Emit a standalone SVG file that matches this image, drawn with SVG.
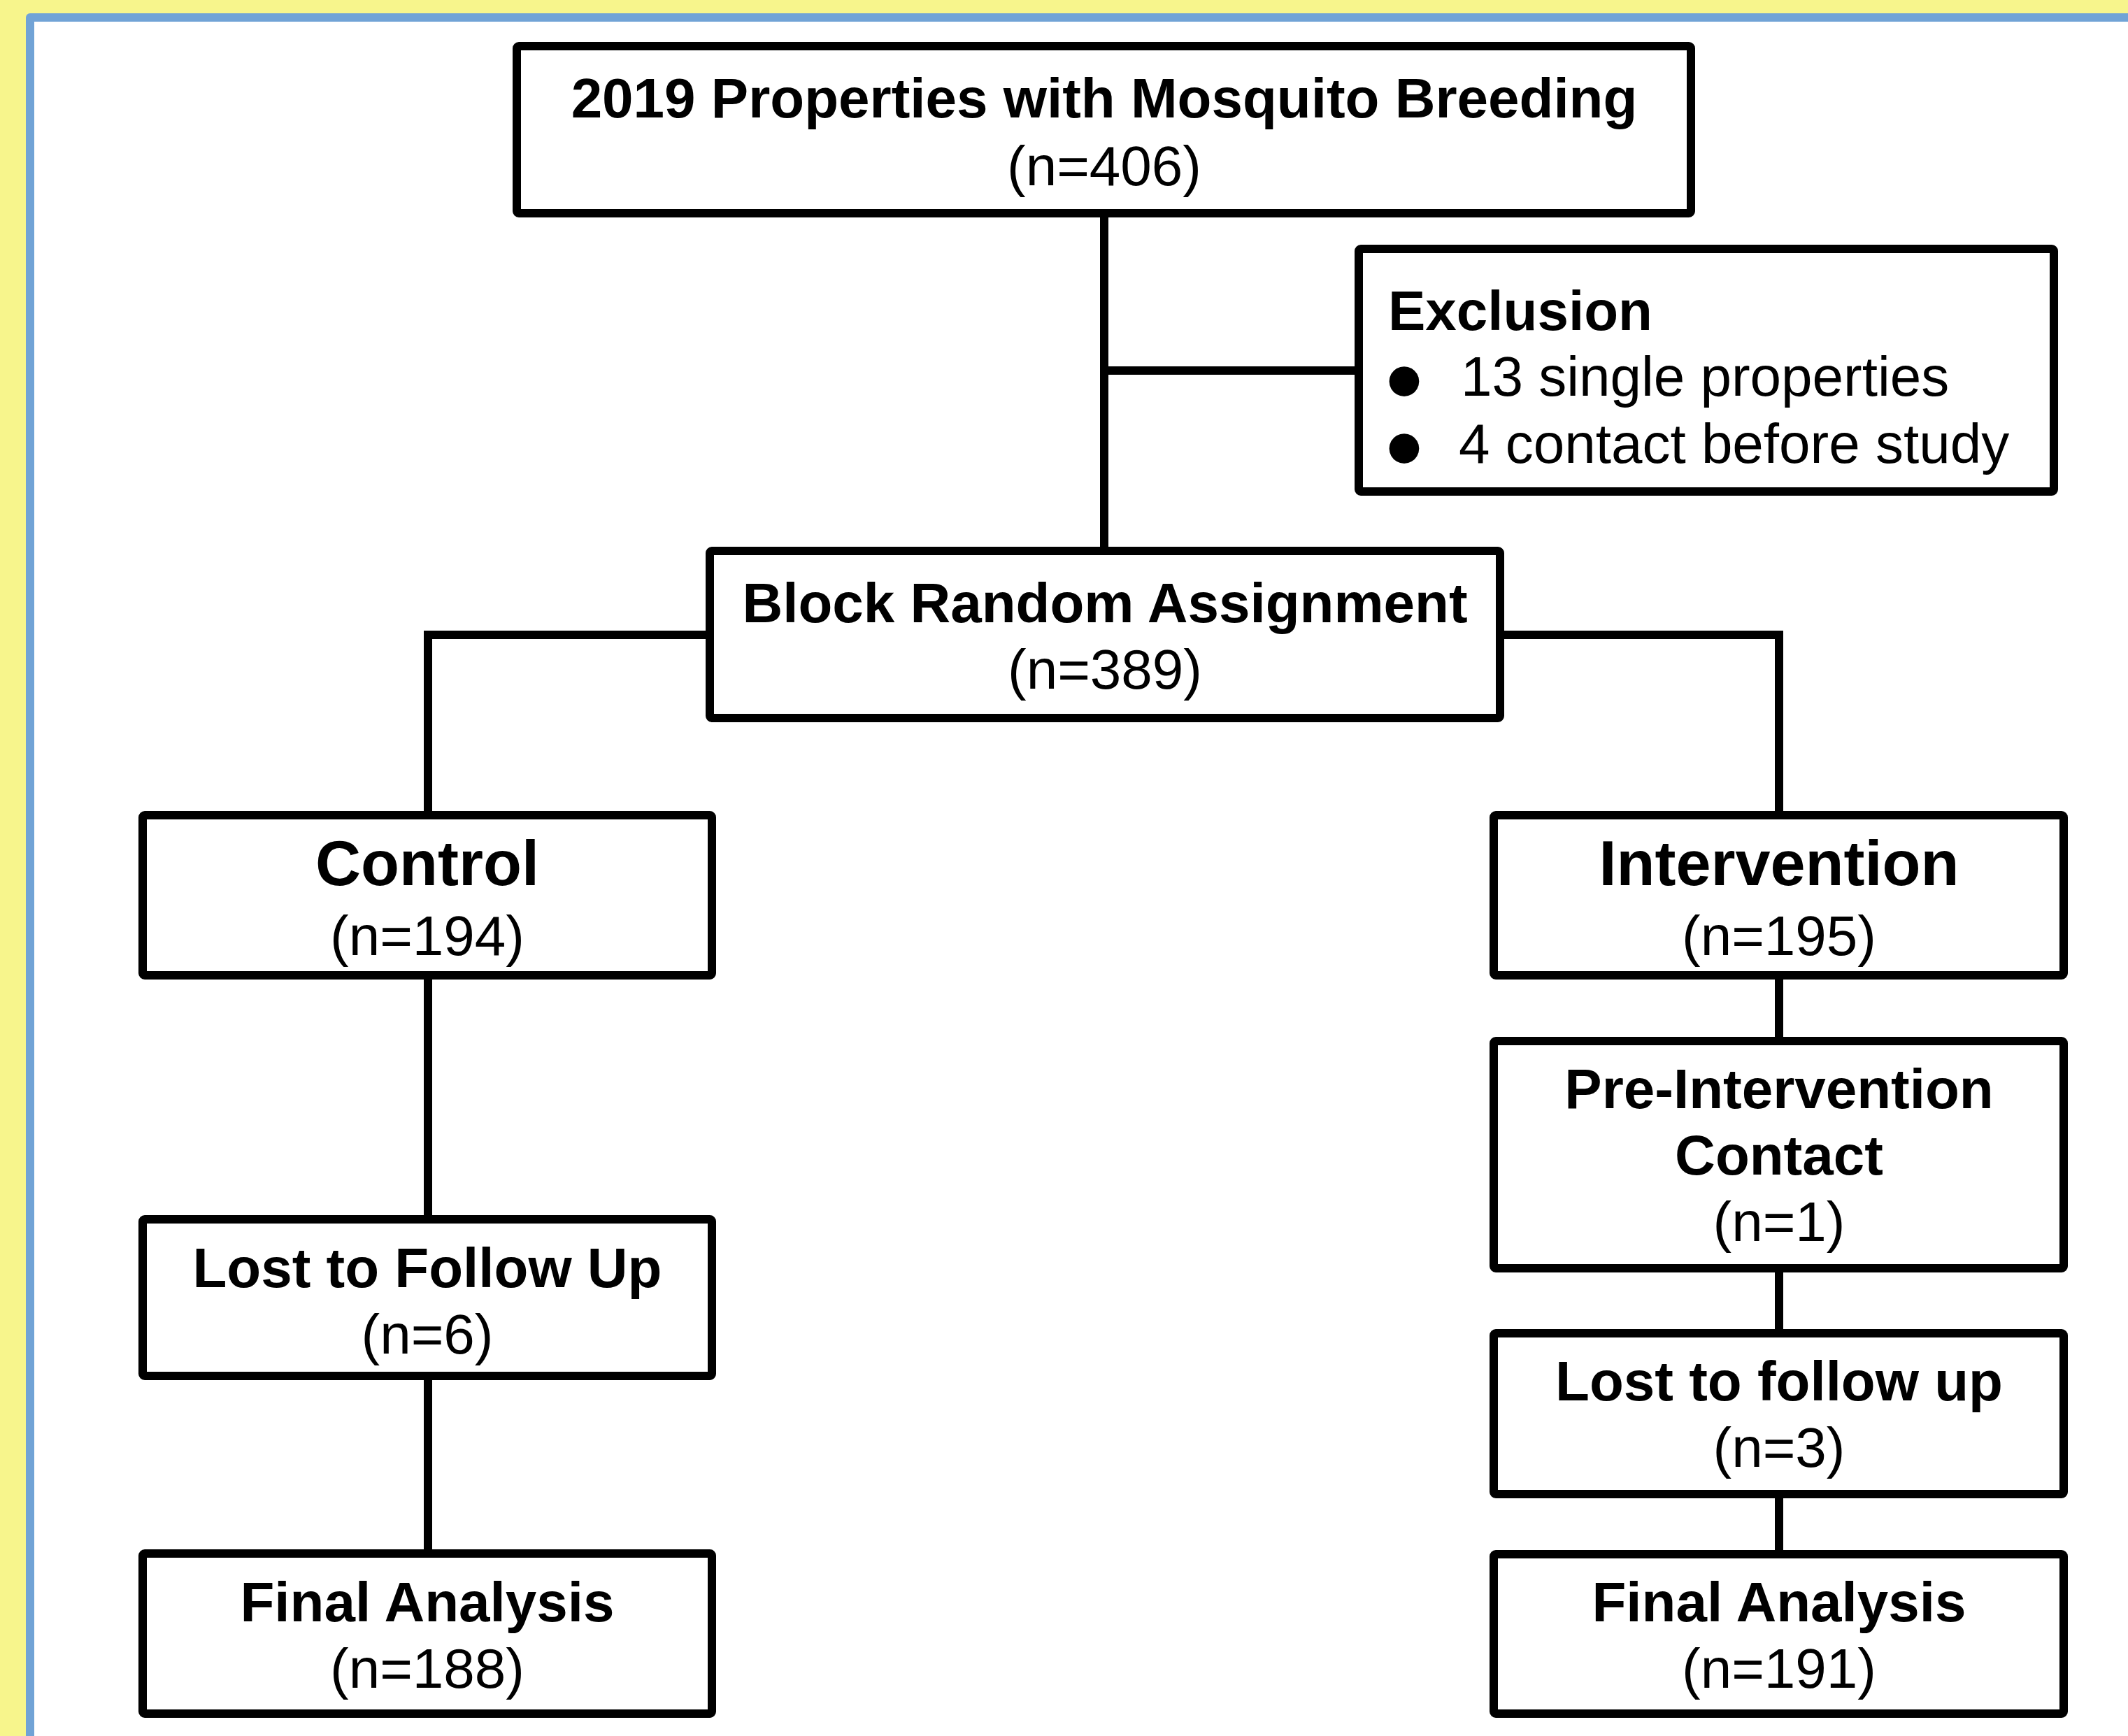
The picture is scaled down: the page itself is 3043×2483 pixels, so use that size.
<svg xmlns="http://www.w3.org/2000/svg" width="3043" height="2483" viewBox="0 0 3043 2483">
<style>
.box{fill:#ffffff;stroke:#000000;stroke-width:12;}
.conn{fill:none;stroke:#000000;stroke-width:12;stroke-linejoin:miter;stroke-linecap:butt;}
.t{font-family:"Liberation Sans",Arial,sans-serif;fill:#000000;text-anchor:middle;}
.b{font-weight:bold;font-size:80px;}
.bl{font-weight:bold;font-size:90px;}
.r{font-weight:normal;font-size:80px;}
.l{text-anchor:start;}
.bul{font-family:"DejaVu Sans",sans-serif;font-size:56px;fill:#000000;text-anchor:middle;}
</style>
<rect x="0" y="0" width="3043" height="2483" fill="#F7F58C"/>
<rect x="37" y="19" width="3100" height="2600" rx="6" fill="#71A3D6"/>
<rect x="49" y="31" width="3100" height="2600" fill="#ffffff"/>
<g id="connectors">
<path class="conn" d="M1579,305 V790"/>
<path class="conn" d="M1579,530 H1945"/>
<path class="conn" d="M1017,908 H612 V1168"/>
<path class="conn" d="M2143,908 H2544 V1168"/>
<path class="conn" d="M612,1393 V1746"/>
<path class="conn" d="M612,1966 V2224"/>
<path class="conn" d="M2544,1393 V1491"/>
<path class="conn" d="M2544,1812 V1909"/>
<path class="conn" d="M2544,2135 V2225"/>
</g>
<g id="node-properties">
<rect class="box" x="739" y="66" width="1679" height="239" rx="3"/>
<text class="t b" x="1579" y="168">2019 Properties with Mosquito Breeding</text>
<text class="t r" x="1579" y="265">(n=406)</text>
</g>
<g id="node-exclusion">
<rect class="box" x="1943" y="356" width="994" height="347" rx="3"/>
<text class="t b l" x="1985" y="472">Exclusion</text>
<text class="bul" x="2008" y="560">●</text>
<text class="t r l" x="2089" y="566">13 single properties</text>
<text class="bul" x="2008" y="656">●</text>
<text class="t r l" x="2086" y="662">4 contact before study</text>
</g>
<g id="node-block">
<rect class="box" x="1015" y="788" width="1130" height="239" rx="3"/>
<text class="t b" x="1580" y="890">Block Random Assignment</text>
<text class="t r" x="1580" y="985">(n=389)</text>
</g>
<g id="node-control">
<rect class="box" x="204" y="1166" width="814" height="229" rx="3"/>
<text class="t bl" x="611" y="1266">Control</text>
<text class="t r" x="611" y="1366">(n=194)</text>
</g>
<g id="node-intervention">
<rect class="box" x="2136" y="1166" width="815" height="229" rx="3"/>
<text class="t bl" x="2544" y="1266">Intervention</text>
<text class="t r" x="2544" y="1366">(n=195)</text>
</g>
<g id="node-pre-intervention">
<rect class="box" x="2136" y="1489" width="815" height="325" rx="3"/>
<text class="t b" x="2544" y="1585">Pre-Intervention</text>
<text class="t b" x="2544" y="1680">Contact</text>
<text class="t r" x="2544" y="1775">(n=1)</text>
</g>
<g id="node-lost-right">
<rect class="box" x="2136" y="1907" width="815" height="230" rx="3"/>
<text class="t b" x="2544" y="2003">Lost to follow up</text>
<text class="t r" x="2544" y="2098">(n=3)</text>
</g>
<g id="node-final-right">
<rect class="box" x="2136" y="2223" width="815" height="228" rx="3"/>
<text class="t b" x="2544" y="2319">Final Analysis</text>
<text class="t r" x="2544" y="2414">(n=191)</text>
</g>
<g id="node-lost-left">
<rect class="box" x="204" y="1744" width="814" height="224" rx="3"/>
<text class="t b" x="611" y="1841">Lost to Follow Up</text>
<text class="t r" x="611" y="1936">(n=6)</text>
</g>
<g id="node-final-left">
<rect class="box" x="204" y="2222" width="814" height="229" rx="3"/>
<text class="t b" x="611" y="2319">Final Analysis</text>
<text class="t r" x="611" y="2414">(n=188)</text>
</g>
</svg>
